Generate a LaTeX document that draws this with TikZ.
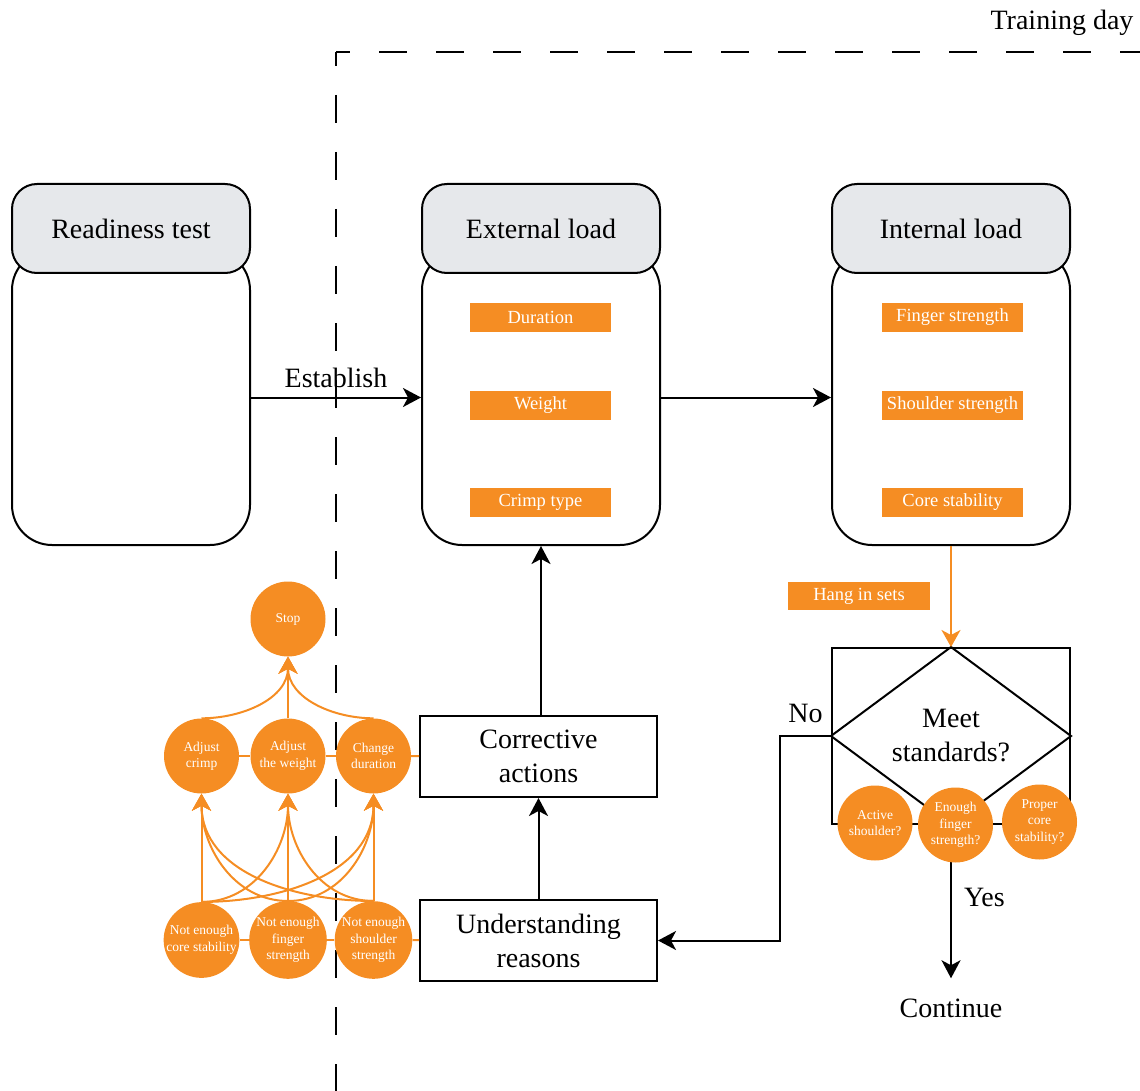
\documentclass[tikz,border=0pt]{standalone}
\usepackage{fontspec}
\setmainfont{Liberation Serif}
\usetikzlibrary{arrows.meta}
\definecolor{org}{RGB}{245,141,35}
\definecolor{hdr}{RGB}{230,232,235}
\tikzset{
 big/.style={font=\fontsize{28}{34}\selectfont},
 hdrbox/.style={draw, line width=2pt, fill=hdr, rounded corners=25pt, minimum width=238pt, minimum height=89pt, big},
 bodybox/.style={draw, line width=2pt, fill=white, rounded corners=40pt, minimum width=238pt, minimum height=295pt},
 obox/.style={fill=org, text=white, minimum width=141pt, minimum height=29pt, inner sep=0pt, font=\fontsize{18.5}{22}\selectfont},
 ocirc/.style={circle, fill=org, text=white, minimum size=75pt, inner sep=0pt, align=center, font=\fontsize{13.5}{16.5}\selectfont},
 pbox/.style={draw, line width=2pt, minimum width=237pt, minimum height=81pt, align=center, big},
 blk/.style={line width=2pt, -{Stealth[length=18pt,width=19pt,inset=5pt]}},
 oarr/.style={draw=org, line width=2pt, -{Stealth[length=17pt,width=19pt,inset=5pt]}},
 oline/.style={draw=org, line width=2pt},
 lbl/.style={big, inner sep=0pt},
 dashln/.style={line width=2pt, dash pattern=on 28pt off 29pt, dash phase=14pt},
}
\begin{document}
\begin{tikzpicture}[x=1pt,y=1pt]
\useasboundingbox (0,0) rectangle (1140,-1091);
% training day frame
\coordinate (corner) at (336,-52);
\coordinate (frameB) at (336,-1091);
\coordinate (frameR) at (1140,-52);
\draw[dashln] (corner) -- (frameB);
\draw[dashln] (corner) -- (frameR);
\node[lbl, anchor=base] (tday) at (1062,-30) {Training day};

% columns
\node[bodybox] (bodyR) at (131,-397.5) {};
\node[hdrbox] (hdrR) at (131,-228.5) {Readiness test};
\node[bodybox] (bodyE) at (541,-397.5) {};
\node[hdrbox] (hdrE) at (541,-228.5) {External load};
\node[bodybox] (bodyI) at (951,-397.5) {};
\node[hdrbox] (hdrI) at (951,-228.5) {Internal load};

\node[obox] (dura) at (540.5,-317.5) {Duration};
\node[obox] (wgt) at (540.5,-405.5) {Weight};
\node[obox] (crt) at (540.5,-502.5) {Crimp type};
\node[obox] (fs) at (952.5,-317.5) {Finger strength};
\node[obox] (ss) at (952.5,-405.5) {Shoulder strength};
\node[obox] (cs) at (952.5,-502.5) {Core stability};

\draw[blk] (bodyR) -- node[midway, above=9pt, lbl] {Establish} (bodyE);
\draw[blk] (bodyE) -- (bodyI);

% decision
\node[obox, minimum width=142pt, minimum height=28pt] (hang) at (859,-596) {Hang in sets};
\node[draw, line width=2pt, minimum width=238pt, minimum height=176pt, align=center, big] (dec) at (951,-736) {Meet\\standards?};
\draw[line width=2pt, line join=miter] (dec.north) -- (dec.east) -- (dec.south) -- (dec.west) -- cycle;
\draw[oarr] (bodyI.south) -- (dec.north);

\node[lbl, anchor=base] (cont) at (951,-1017) {Continue};
\draw[blk] (dec.south) -- node[pos=0.47, right=12pt, lbl] {Yes} ([yshift=20pt]cont.north);

\node[ocirc] (act) at (875,-823) {Active\\shoulder?};
\node[ocirc] (enough) at (955.5,-825) {Enough\\finger\\strength?};
\node[ocirc] (proper) at (1039.5,-822) {Proper\\core\\stability?};

% process boxes
\node[pbox] (corr) at (538.5,-756.5) {Corrective\\actions};
\node[pbox] (und) at (538.5,-940.5) {Understanding\\reasons};
\draw[blk] (und) -- (corr);
\draw[blk] (corr.north -| bodyE.south) -- (bodyE.south);
\draw[blk] (dec.west) -- node[midway, above=12pt, lbl] {No} ++(-51,0) |- (und.east);

% orange circle network
\node[ocirc] (stop) at (288,-619) {Stop};
\node[ocirc] (crimp) at (201.5,-756) {Adjust\\crimp};
\node[ocirc] (weight) at (288,-756) {Adjust\\the weight};
\node[ocirc] (dur) at (373.5,-756) {Change\\duration};
\node[ocirc] (core) at (201.5,-940) {Not enough\\core stability};
\node[ocirc] (finger) at (288,-940) {Not enough\\finger\\strength};
\node[ocirc] (shoulder) at (373.5,-940) {Not enough\\shoulder\\strength};

\draw[oline] (crimp) -- (weight);
\draw[oline] (weight) -- (dur);
\draw[oline] (dur) -- (corr);
\draw[oline] (core) -- (finger);
\draw[oline] (finger) -- (shoulder);
\draw[oline] (shoulder) -- (und);

\draw[oarr] (core.north) -- (crimp.south);
\draw[oarr] (core.north) to[out=0,in=-90] (weight.south);
\draw[oarr] (core.north) to[out=0,in=-90] (dur.south);
\draw[oarr] (finger.north) to[out=180,in=-90] (crimp.south);
\draw[oarr] (finger.north) -- (weight.south);
\draw[oarr] (finger.north) to[out=0,in=-90] (dur.south);
\draw[oarr] (shoulder.north) to[out=180,in=-90] (crimp.south);
\draw[oarr] (shoulder.north) to[out=180,in=-90] (weight.south);
\draw[oarr] (shoulder.north) -- (dur.south);

\draw[oarr] (crimp.north) to[out=0,in=-90] (stop.south);
\draw[oarr] (weight.north) -- (stop.south);
\draw[oarr] (dur.north) to[out=180,in=-90] (stop.south);
\end{tikzpicture}
\end{document}
